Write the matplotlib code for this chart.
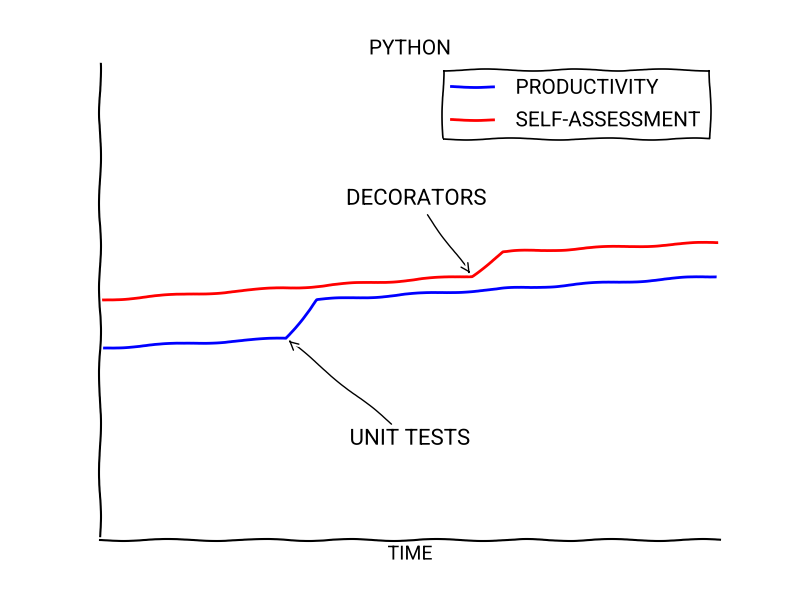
import matplotlib
matplotlib.use("Agg")
import matplotlib.pyplot as plt

# time axis and the two series
time_points = [0, 30, 35, 100]
productivity = [4.0, 4.2, 5.0, 5.5]

time_points_self = [0, 60, 65, 100]
self_assessment = [5.0, 5.5, 6.0, 6.2]

unit_tests_xy = (30, 4.2)
unit_tests_text = (50, 2.1)
decorators_xy = (60, 5.5)
decorators_text = (51, 7.1)


def main():
    with plt.xkcd():
        plt.rcParams["font.family"] = ["Roboto", "DejaVu Sans"]
        plt.rcParams["font.size"] = 14

        fig = plt.figure(figsize=(8, 6), dpi=100)
        ax = fig.add_axes([0.125, 0.1, 0.775, 0.8])
        ax.spines["right"].set_color("none")
        ax.spines["top"].set_color("none")
        ax.set_xticks([])
        ax.set_yticks([])

        ax.plot(time_points, productivity, color="blue", label="PRODUCTIVITY")
        ax.plot(time_points_self, self_assessment, color="red", label="SELF-ASSESSMENT")

        ax.set_xlim(0, 100)
        ax.set_ylim(0, 10)

        ax.annotate("UNIT TESTS", xy=unit_tests_xy, xytext=unit_tests_text,
                    ha="center", va="center", fontsize=16,
                    arrowprops=dict(arrowstyle="->", color="black", lw=1))
        ax.annotate("DECORATORS", xy=decorators_xy, xytext=decorators_text,
                    ha="center", va="center", fontsize=16,
                    arrowprops=dict(arrowstyle="->", color="black", lw=1))

        ax.set_title("PYTHON", fontsize=15, pad=4)
        ax.set_xlabel("TIME", fontsize=14)
        leg = ax.legend(loc="upper right", fontsize=15, fancybox=False,
                        edgecolor="black", framealpha=1, labelspacing=0.65,
                        handletextpad=1.1, handlelength=2.0)
        leg.get_frame().set_linewidth(1.2)

        fig.savefig("out.png", dpi=100)


if __name__ == "__main__":
    main()
